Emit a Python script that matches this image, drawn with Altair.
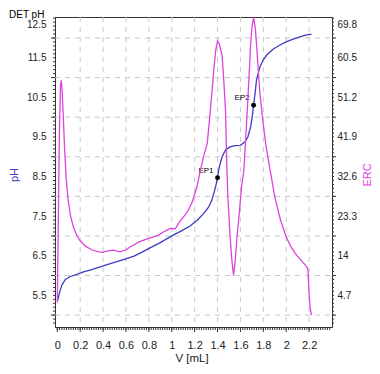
import altair as alt
import pandas as pd
import numpy as np

# ---------------- data ----------------
v_ph = [0.00, 0.01, 0.02, 0.04, 0.07, 0.11, 0.17, 0.23, 0.30, 0.375, 0.45, 0.52, 0.60,
        0.67, 0.74, 0.81, 0.90, 1.00, 1.08, 1.16, 1.22, 1.28, 1.32, 1.35, 1.37, 1.39,
        1.40, 1.41, 1.425, 1.44, 1.47, 1.51, 1.55, 1.60, 1.64, 1.665, 1.69, 1.705,
        1.715, 1.73, 1.74, 1.77, 1.80, 1.83, 1.89, 1.95, 2.00, 2.06, 2.12, 2.17, 2.22]
ph_vals = [5.34, 5.45, 5.58, 5.76, 5.90, 5.97, 6.03, 6.09, 6.15, 6.22, 6.29, 6.35, 6.42,
           6.49, 6.59, 6.70, 6.83, 7.00, 7.12, 7.25, 7.39, 7.57, 7.72, 7.90, 8.10, 8.33,
           8.47, 8.66, 8.85, 9.00, 9.17, 9.25, 9.28, 9.29, 9.38, 9.50, 9.76, 10.05,
           10.30, 10.65, 10.93, 11.27, 11.45, 11.57, 11.73, 11.83, 11.90, 11.97, 12.03, 12.07, 12.10]

v_erc = [0.000, 0.008, 0.018, 0.028, 0.034, 0.042, 0.052, 0.064, 0.078, 0.095, 0.115,
         0.14, 0.17, 0.20, 0.25, 0.30, 0.36, 0.40, 0.43, 0.49, 0.55, 0.60, 0.64, 0.72,
         0.81, 0.88, 0.94, 0.99, 1.03, 1.07, 1.10, 1.14, 1.18, 1.22, 1.25, 1.28, 1.31,
         1.33, 1.35, 1.37, 1.385, 1.40, 1.415, 1.44, 1.455, 1.47, 1.48, 1.49, 1.51,
         1.525, 1.54, 1.555, 1.57, 1.59, 1.61, 1.63, 1.645, 1.66, 1.675, 1.69, 1.70,
         1.715, 1.73, 1.74, 1.755, 1.77, 1.795, 1.82, 1.85, 1.87, 1.90, 1.95, 2.00,
         2.04, 2.08, 2.14, 2.18, 2.19, 2.20, 2.21, 2.22]
erc_vals = [3.0, 20.0, 42.0, 54.0, 55.2, 53.0, 47.0, 39.0, 32.0, 27.0, 23.5,
            20.8, 18.8, 17.5, 16.2, 15.4, 14.9, 14.8, 15.1, 15.3, 14.9, 15.4, 16.1, 17.3,
            18.2, 18.8, 19.8, 20.4, 20.3, 22.0, 23.0, 24.5, 26.7, 30.2, 34.1, 37.5, 40.4,
            46.0, 52.1, 58.5, 62.5, 64.5, 63.8, 61.0, 55.0, 48.0, 36.0, 28.0, 18.4,
            13.0, 9.4, 13.0, 18.4, 24.0, 30.2, 34.1, 41.0, 48.2, 56.0, 63.9, 67.5,
            70.0, 67.5, 63.9, 58.0, 52.1, 46.0, 40.4, 35.5, 32.5, 27.8, 22.4, 18.4,
            16.2, 14.5, 12.6, 11.4, 10.6, 5.0, 1.5, 0.05]

ep_labels = ["EP1", "EP2"]
ep_v = [1.40, 1.715]
ep_ph = [8.47, 10.30]

x_labels = [0, 0.2, 0.4, 0.6, 0.8, 1, 1.2, 1.4, 1.6, 1.8, 2, 2.2]
ph_labels = [5.5, 6.5, 7.5, 8.5, 9.5, 10.5, 11.5, 12.5]
erc_labels = [4.7, 14, 23.3, 32.6, 41.9, 51.2, 60.5, 69.8]
ph_grid = [5, 6, 7, 8, 9, 10, 11, 12]
v_grid = [0.2, 0.4, 0.6, 0.8, 1.0, 1.2, 1.4, 1.6, 1.8, 2.0, 2.2]

# ---------------- layout ----------------
W, H = 277, 310
FONT = "Liberation Sans"
BLUE = "#3c3cc0"
MAG = "#dd44dd"
AX = "#333333"

x_dom = [-0.02, 2.40]
ph_dom = [4.70, 12.53]
erc_dom = [4.7 + (ph_dom[0] - 5.5) * 9.3, 4.7 + (ph_dom[1] - 5.5) * 9.3]

xs = alt.Scale(domain=x_dom, nice=False, zero=False)
ys = alt.Scale(domain=ph_dom, nice=False, zero=False)
es = alt.Scale(domain=erc_dom, nice=False, zero=False)

df_ph = pd.DataFrame({"V": v_ph, "pH": ph_vals})
df_erc = pd.DataFrame({"V": v_erc, "ERC": erc_vals})
df_ep = pd.DataFrame({"V": ep_v, "pH": ep_ph, "lbl": ep_labels})

ph_minor = pd.DataFrame({"p": np.round(np.arange(4.8, 12.51, 0.1), 2)})
v_minor = pd.DataFrame({"v": np.round(np.arange(0.0, 2.39, 0.02), 3)})

x_axis = alt.Axis(
    orient="bottom", values=x_labels, format=".2~g", ticks=False, grid=False, title=None,
    labelFont=FONT, labelFontSize=11, labelColor="#222", labelPadding=12,
    domainColor=AX)
y_axis = alt.Axis(
    orient="left", values=ph_labels, format=".1f", ticks=False, grid=False, title=None,
    labelFont=FONT, labelFontSize=10, labelColor="#222", labelPadding=9,
    labelOffset={"condition": {"test": "datum.value > 12", "value": 6}, "value": 0},
    domainColor=AX)

hgrid = alt.Chart(pd.DataFrame({"g": ph_grid})).mark_rule(
    color="#c8c8c8", strokeDash=[5, 5], strokeWidth=1).encode(
    y=alt.Y("g:Q", scale=ys, axis=y_axis),
    x=alt.value(0), x2=alt.value(W))
vgrid = alt.Chart(pd.DataFrame({"g": v_grid})).mark_rule(
    color="#c8c8c8", strokeDash=[5, 5], strokeWidth=1).encode(
    x=alt.X("g:Q", scale=xs, axis=x_axis),
    y=alt.value(0), y2=alt.value(H))

l_minor = alt.Chart(ph_minor).mark_rule(color=AX, strokeWidth=1).encode(
    y=alt.Y("p:Q", scale=ys, axis=None), x=alt.value(-2), x2=alt.value(0))
l_major = alt.Chart(pd.DataFrame({"g": ph_grid})).mark_rule(color=AX, strokeWidth=1).encode(
    y=alt.Y("g:Q", scale=ys, axis=None), x=alt.value(-4), x2=alt.value(0))
r_minor = alt.Chart(ph_minor).mark_rule(color=AX, strokeWidth=1).encode(
    y=alt.Y("p:Q", scale=ys, axis=None), x=alt.value(W), x2=alt.value(W + 2))
r_major = alt.Chart(pd.DataFrame({"g": ph_grid})).mark_rule(color=AX, strokeWidth=1).encode(
    y=alt.Y("g:Q", scale=ys, axis=None), x=alt.value(W), x2=alt.value(W + 4))
b_minor = alt.Chart(v_minor).mark_rule(color=AX, strokeWidth=1).encode(
    x=alt.X("v:Q", scale=xs, axis=None), y=alt.value(H), y2=alt.value(H + 3))
b_major = alt.Chart(pd.DataFrame({"g": x_labels})).mark_rule(color=AX, strokeWidth=1).encode(
    x=alt.X("g:Q", scale=xs, axis=None), y=alt.value(H), y2=alt.value(H + 5))

ph_line = alt.Chart(df_ph).mark_line(color=BLUE, strokeWidth=1.3, clip=True).encode(
    x=alt.X("V:Q", scale=xs, axis=None),
    y=alt.Y("pH:Q", scale=ys, axis=None))

ep_pts = alt.Chart(df_ep).mark_point(filled=True, color="black", size=24, opacity=1).encode(
    x=alt.X("V:Q", scale=xs, axis=None), y=alt.Y("pH:Q", scale=ys, axis=None))
ep_txt = alt.Chart(df_ep).mark_text(
    align="right", baseline="middle", dx=-4, dy=-7, fontSize=8, font=FONT, color="black").encode(
    x=alt.X("V:Q", scale=xs, axis=None), y=alt.Y("pH:Q", scale=ys, axis=None), text="lbl:N")


def vlabel(txt, x, y, size, color):
    return alt.Chart(pd.DataFrame({"t": [txt]})).mark_text(
        align="center", baseline="middle", fontSize=size,
        font=FONT, color=color, angle=270).encode(
        text="t:N", x=alt.value(x), y=alt.value(y))


top_title = alt.Chart(pd.DataFrame({"t": ["DET pH"]})).mark_text(
    align="left", baseline="middle", fontSize=10, font=FONT, color="black").encode(
    text="t:N", x=alt.value(-46), y=alt.value(-2))
ph_title = vlabel("pH", -40, 158, 11, BLUE)
erc_title = vlabel("ERC", 313, 158, 11, MAG)
x_title = alt.Chart(pd.DataFrame({"t": ["V [mL]"]})).mark_text(
    align="center", baseline="middle", fontSize=11.5, font=FONT, color="#222").encode(
    text="t:N", x=alt.value(137), y=alt.value(342))

inner = alt.layer(hgrid, vgrid, l_minor, l_major, r_minor, r_major, b_minor, b_major,
                  ph_line, ep_pts, ep_txt, top_title, ph_title, erc_title, x_title
                  ).resolve_axis(x="independent", y="independent")

erc_line = alt.Chart(df_erc).mark_line(color=MAG, strokeWidth=1.3, clip=True).encode(
    x=alt.X("V:Q", scale=xs, axis=None),
    y=alt.Y("ERC:Q", scale=es, axis=alt.Axis(
        orient="right", values=erc_labels, format=".3~g", ticks=False, grid=False,
        title=None, labelFont=FONT, labelFontSize=10, labelColor="#222",
        labelPadding=5,
        labelOffset={"condition": {"test": "datum.value > 65", "value": 6}, "value": 0},
        domainColor=AX)))

chart = alt.layer(inner, erc_line).resolve_scale(y="independent").resolve_axis(
    x="independent", y="independent").properties(
    width=W, height=H,
    padding={"left": 47, "top": 9, "right": 40, "bottom": 39},
    autosize=alt.AutoSizeParams(type="none"),
).configure_view(stroke=AX, strokeWidth=1)

chart.save("out.html", embed_options={"renderer": "svg", "actions": False})
